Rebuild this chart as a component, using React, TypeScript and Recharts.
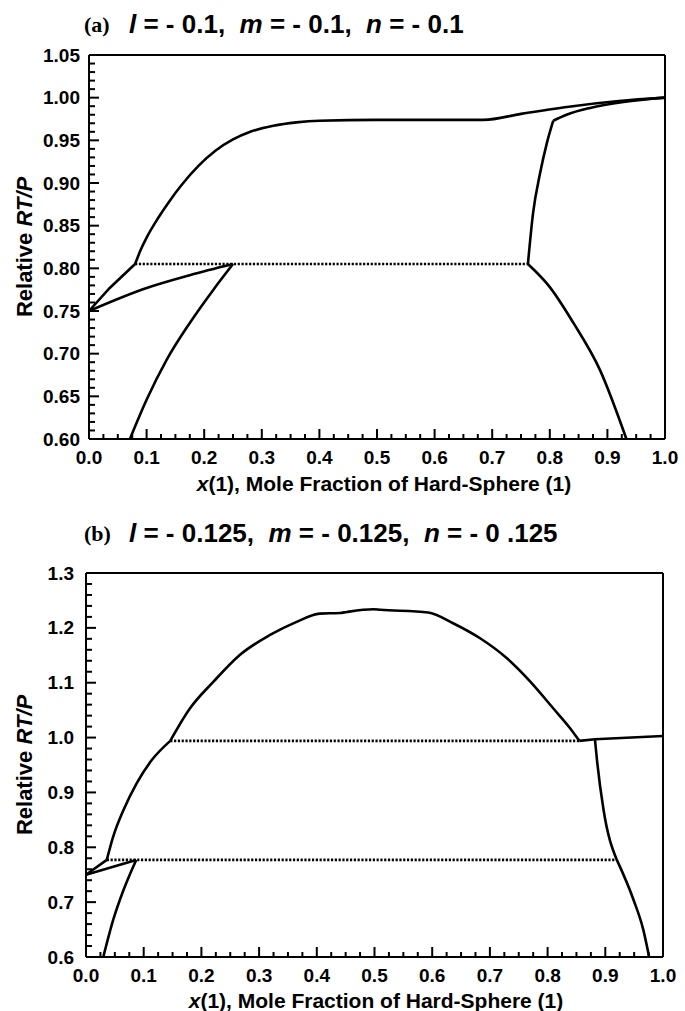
import React from 'react';
import { LineChart, Line, XAxis, YAxis, ReferenceLine } from 'recharts';

// x(1) mole fraction vs relative RT/P

// (a) l = m = n = -0.1
const aVapLowX = [0, 0.036, 0.08];
const aVapLowY = [0.75, 0.777, 0.805];
const aVapUpX = [0.08, 0.09, 0.1, 0.12, 0.14, 0.16, 0.19, 0.22, 0.25, 0.28, 0.32, 0.36, 0.4, 0.5, 0.6, 0.685, 0.75, 0.84, 0.92, 1.0];
const aVapUpY = [0.805, 0.822, 0.836, 0.859, 0.879, 0.897, 0.92, 0.938, 0.951, 0.96, 0.967, 0.971, 0.973, 0.974, 0.974, 0.974, 0.981, 0.99, 0.996, 1.0];
const aLeftLineX = [0, 0.1, 0.175, 0.25];
const aLeftLineY = [0.75, 0.777, 0.792, 0.805];
const aLiqLeftX = [0.071, 0.1, 0.135, 0.175, 0.216, 0.25];
const aLiqLeftY = [0.6, 0.646, 0.693, 0.736, 0.775, 0.805];
const aTieX = [0.08, 0.762];
const aTieY = [0.805, 0.805];
const aInnerX = [0.762, 0.771, 0.783, 0.795, 0.806];
const aInnerY = [0.805, 0.865, 0.911, 0.947, 0.973];
const aInnerTopX = [0.806, 0.829, 0.87, 0.928, 1.0];
const aInnerTopY = [0.973, 0.98, 0.988, 0.995, 1.0];
const aLiqRightX = [0.762, 0.8, 0.841, 0.887, 0.933];
const aLiqRightY = [0.805, 0.778, 0.736, 0.681, 0.6];

// (b) l = m = n = -0.125
const bVapLowX = [0, 0.036];
const bVapLowY = [0.75, 0.777];
const bVapUpX = [0.036, 0.047, 0.065, 0.088, 0.114, 0.146];
const bVapUpY = [0.777, 0.819, 0.868, 0.917, 0.959, 0.994];
const bDomeX = [0.146, 0.18, 0.221, 0.267, 0.319, 0.365, 0.405, 0.44, 0.452, 0.498, 0.51, 0.593, 0.637, 0.683, 0.729, 0.77, 0.81, 0.839, 0.855];
const bDomeY = [0.994, 1.053, 1.102, 1.151, 1.187, 1.211, 1.226, 1.227, 1.229, 1.234, 1.233, 1.228, 1.208, 1.181, 1.145, 1.102, 1.053, 1.017, 0.994];
const bTieUpX = [0.146, 0.855];
const bTieUpY = [0.994, 0.994];
const bRightTopX = [0.855, 0.882, 1.0];
const bRightTopY = [0.994, 0.997, 1.003];
const bRightMidX = [0.882, 0.886, 0.897, 0.92];
const bRightMidY = [0.997, 0.955, 0.868, 0.777];
const bTieLowX = [0.036, 0.92];
const bTieLowY = [0.777, 0.777];
const bLeftLineX = [0, 0.087];
const bLeftLineY = [0.75, 0.777];
const bLiqLeftX = [0.03, 0.047, 0.065, 0.087];
const bLiqLeftY = [0.6, 0.667, 0.722, 0.777];
const bLiqRightX = [0.92, 0.949, 0.966, 0.976];
const bLiqRightY = [0.777, 0.704, 0.649, 0.6];

// ticks (built in hundredths / thousandths to dodge float noise)
const xTicks = Array.from({ length: 41 }, (_, i) => (i * 25) / 1000);
const aYTicks = Array.from({ length: 46 }, (_, i) => (60 + i) / 100);
const bYTicks = Array.from({ length: 36 }, (_, i) => (60 + i * 2) / 100);

const zip = (xs: number[], ys: number[]) => xs.map((x, i) => ({ x, y: ys[i] }));

type Curve = { pts: { x: number; y: number }[]; dotted?: boolean; linear?: boolean };

const curvesA: Curve[] = [
  { pts: zip(aVapLowX, aVapLowY), linear: true },
  { pts: zip(aVapUpX, aVapUpY) },
  { pts: zip(aLeftLineX, aLeftLineY) },
  { pts: zip(aLiqLeftX, aLiqLeftY) },
  { pts: zip(aTieX, aTieY), dotted: true, linear: true },
  { pts: zip(aInnerX, aInnerY) },
  { pts: zip(aInnerTopX, aInnerTopY) },
  { pts: zip(aLiqRightX, aLiqRightY) },
];

const curvesB: Curve[] = [
  { pts: zip(bVapLowX, bVapLowY), linear: true },
  { pts: zip(bVapUpX, bVapUpY) },
  { pts: zip(bDomeX, bDomeY) },
  { pts: zip(bTieUpX, bTieUpY), dotted: true, linear: true },
  { pts: zip(bRightTopX, bRightTopY), linear: true },
  { pts: zip(bRightMidX, bRightMidY) },
  { pts: zip(bTieLowX, bTieLowY), dotted: true, linear: true },
  { pts: zip(bLeftLineX, bLeftLineY), linear: true },
  { pts: zip(bLiqLeftX, bLiqLeftY) },
  { pts: zip(bLiqRightX, bLiqRightY) },
];

const SANS = '"Liberation Sans", Arial, Helvetica, sans-serif';
const tickFont = { fontFamily: SANS, fontWeight: 700, fontSize: 19, fill: '#000' };
const frame = { stroke: '#000', strokeWidth: 2 };

// ticks point into the plot, labels only on the major ones
const xTick = (props: any) => {
  const { x, y, payload } = props;
  const v = payload.value as number;
  const major = Math.round(v * 1000) % 100 === 0;
  return (
    <g>
      <path d={`M${x},${y}V${y - (major ? 10 : 5)}`} stroke="#000" strokeWidth={2} fill="none" />
      {major && (
        <text x={x} y={y + 18} textAnchor="middle" dominantBaseline="central" style={tickFont}>
          {v.toFixed(1)}
        </text>
      )}
    </g>
  );
};

const makeYTick = (majorEvery: number, digits: number, gap: number) => (props: any) => {
  const { x, y, payload } = props;
  const v = payload.value as number;
  const major = Math.round(v * 100) % majorEvery === 0;
  return (
    <g>
      <path d={`M${x},${y}H${x + (major ? 10 : 6)}`} stroke="#000" strokeWidth={2} fill="none" />
      {major && (
        <text x={x - gap} y={y} textAnchor="end" dominantBaseline="central" style={tickFont}>
          {v.toFixed(digits)}
        </text>
      )}
    </g>
  );
};

const yTickA = makeYTick(5, 2, 9);
const yTickB = makeYTick(10, 1, 12);

interface PanelProps {
  curves: Curve[];
  yMin: number;
  yMax: number;
  yTicks: number[];
  yTick: (p: any) => React.ReactElement;
  top: number;
  marginLeft: number;
  marginRight: number;
}

function Panel({ curves, yMin, yMax, yTicks, yTick, top, marginLeft, marginRight }: PanelProps) {
  return (
    <div style={{ position: 'absolute', left: 0, top }}>
      <LineChart width={685} height={500} margin={{ top: 55, right: marginRight, bottom: 31, left: marginLeft }}>
        <XAxis
          dataKey="x"
          type="number"
          domain={[0, 1]}
          ticks={xTicks}
          interval={0}
          tick={xTick}
          tickSize={0}
          tickMargin={0}
          tickLine={false}
          axisLine={frame}
          height={30}
        />
        <YAxis
          type="number"
          domain={[yMin, yMax]}
          ticks={yTicks}
          interval={0}
          tick={yTick}
          tickSize={0}
          tickMargin={0}
          tickLine={false}
          axisLine={frame}
          width={60}
        />
        {curves.map((c, i) => (
          <Line
            key={i}
            data={c.pts}
            dataKey="y"
            type={c.linear ? 'linear' : 'monotone'}
            stroke="#000"
            strokeWidth={2.6}
            strokeDasharray={c.dotted ? '2.2 1.6' : undefined}
            dot={false}
            activeDot={false}
            isAnimationActive={false}
          />
        ))}
        <ReferenceLine y={yMax} stroke="#000" strokeWidth={2} ifOverflow="visible" />
        <ReferenceLine x={1} stroke="#000" strokeWidth={2} ifOverflow="visible" />
      </LineChart>
    </div>
  );
}

const abs = (left: number, top: number): React.CSSProperties => ({
  position: 'absolute',
  left,
  top,
  whiteSpace: 'pre',
  lineHeight: 1,
  color: '#000',
});

function Title({ top, tag, value }: { top: number; tag: string; value: string }) {
  const part = { fontFamily: SANS, fontWeight: 700, fontSize: 26 } as React.CSSProperties;
  const it = { ...part, fontStyle: 'italic' } as React.CSSProperties;
  return (
    <>
      <div style={{ ...abs(84, top + 3), fontFamily: '"Liberation Serif", "Times New Roman", serif', fontWeight: 700, fontSize: 22 }}>
        {tag}
      </div>
      <div style={{ ...abs(129, top), ...part }}>
        <span style={it}>l</span> = - {value},  <span style={it}>m</span> = - {value},  <span style={it}>n</span> = - {value === '0.125' ? '0 .125' : value}
      </div>
    </>
  );
}

function YLabel({ cx, cy }: { cx: number; cy: number }) {
  return (
    <div
      style={{
        ...abs(cx, cy),
        fontFamily: SANS,
        fontWeight: 700,
        fontSize: 22,
        transform: 'translate(-50%, -50%) rotate(-90deg)',
      }}
    >
      Relative <i>RT/P</i>
    </div>
  );
}

function XLabel({ cx, cy }: { cx: number; cy: number }) {
  return (
    <div
      style={{
        ...abs(cx, cy),
        fontFamily: SANS,
        fontWeight: 700,
        fontSize: 21,
        transform: 'translate(-50%, -50%)',
      }}
    >
      <i>x</i>(1), Mole Fraction of Hard-Sphere (1)
    </div>
  );
}

export default function App() {
  return (
    <div style={{ position: 'relative', width: 685, height: 1011, background: '#fff', overflow: 'hidden' }}>
      <style>{'body{margin:0}'}</style>
      <Title top={11} tag="(a)" value="0.1" />
      <Panel curves={curvesA} yMin={0.6} yMax={1.05} yTicks={aYTicks} yTick={yTickA} top={0} marginLeft={29} marginRight={20} />
      <YLabel cx={25} cy={247} />
      <XLabel cx={384} cy={483} />

      <Title top={520} tag="(b)" value="0.125" />
      <Panel curves={curvesB} yMin={0.6} yMax={1.3} yTicks={bYTicks} yTick={yTickB} top={518} marginLeft={26} marginRight={22} />
      <YLabel cx={25} cy={765} />
      <XLabel cx={376} cy={1000} />
    </div>
  );
}
